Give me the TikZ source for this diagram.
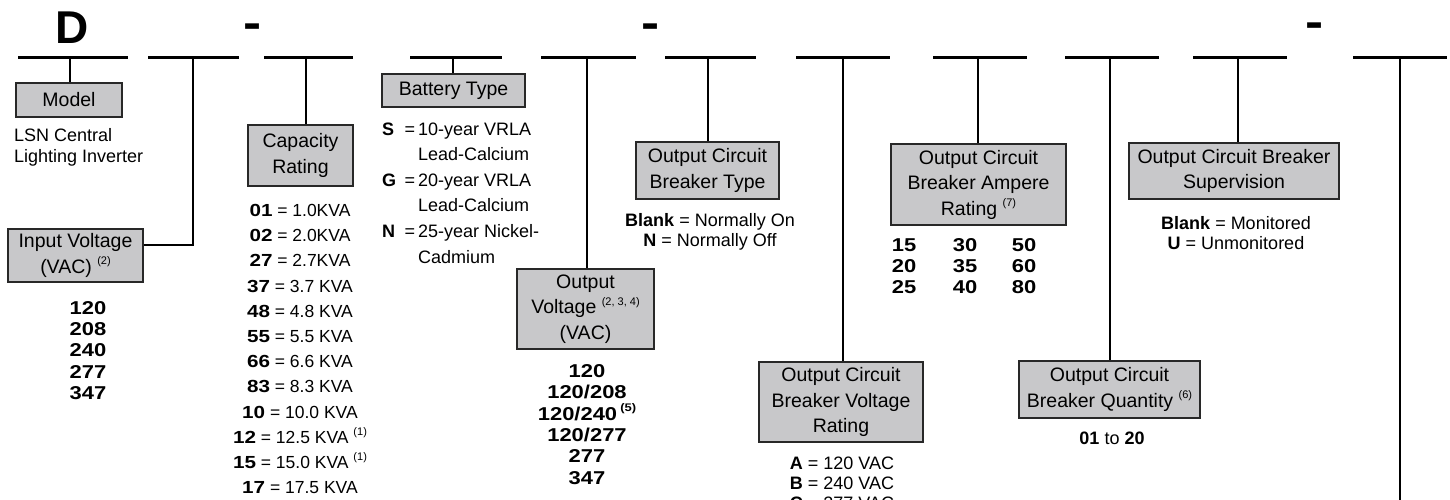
\documentclass[tikz,border=0pt]{standalone}
\usepackage{fontspec}
\setmainfont{Liberation Sans}
\newfontfamily\widefont[FakeStretch=1.18]{Liberation Sans}
\definecolor{boxgray}{RGB}{200,200,202}
\definecolor{boxline}{RGB}{40,40,40}
\newcommand{\supnote}[1]{\raisebox{0.45em}{\fontsize{11}{11}\selectfont(#1)}}
\newcommand{\keynum}[1]{{\widefont\bfseries #1}}
\newcommand{\battkey}[1]{\makebox[36pt][l]{\textbf{#1}\hfill=\hspace{3pt}}}

\begin{document}
\begin{tikzpicture}[
  x=1pt, y=-1pt,
  every node/.style={inner sep=0pt},
  slot/.style={draw, line width=3pt},
  link/.style={draw, line width=2.4pt},
  box/.style={draw=boxline, fill=boxgray, line width=1.2pt, align=center,
    font=\fontsize{19.5}{25.5}\selectfont},
  list/.style={align=center, font=\fontsize{18}{20}\selectfont},
  nums/.style={align=center, font=\widefont\bfseries\fontsize{18.6}{21.3}\selectfont},
  big/.style={anchor=base, font=\bfseries\fontsize{46}{46}\selectfont},
  hyph/.style={anchor=base, font=\widefont\bfseries\fontsize{46}{46}\selectfont}]

  \useasboundingbox (0,0) rectangle (1450,500);

  % code letters over the slots
  \node[big]  (d)     at (72,43.5)   {D};
  \node[hyph] (hyph1) at (252.5,38.5) {-};
  \node[hyph] (hyph2) at (651,38.5)   {-};
  \node[hyph] (hyph3) at (1315,37.5)  {-};

  % slots
  \foreach \i/\a/\b/\m in {1/18/128/70, 2/148/239/193, 3/264/353/306,
      4/410/502/453, 5/541/636/587, 6/665/756/708, 7/796/890/843,
      8/933/1027/978, 9/1065/1159/1110, 10/1193/1287/1238, 11/1353/1447/1400} {
    \coordinate (sl\i) at (\a,57.5);
    \coordinate (sr\i) at (\b,57.5);
    \coordinate (s\i)  at (\m,57.5);
    \draw[slot] (sl\i) -- (sr\i);
  }
  \coordinate (tail) at (1400,505);

  % boxes
  \node[box, minimum width=106, minimum height=34] (model)  at (69,100)     {Model};
  \node[box, minimum width=135, minimum height=53] (inv)    at (75.5,255.5) {Input Voltage\\(VAC) \supnote{2}};
  \node[box, minimum width=105, minimum height=61] (cap)    at (300.5,155.5) {Capacity\\Rating};
  \node[box, minimum width=143, minimum height=33] (bat)    at (453.5,90.5) {Battery Type};
  \node[box, minimum width=137, minimum height=80] (outv)   at (585.5,309)  {Output\\Voltage \supnote{2, 3, 4}\\(VAC)};
  \node[box, minimum width=143, minimum height=57] (cbtype) at (707.5,170.5) {Output Circuit\\Breaker Type};
  \node[box, minimum width=164, minimum height=80] (cbvolt) at (841,402)    {Output Circuit\\Breaker Voltage\\Rating};
  \node[box, minimum width=175, minimum height=81] (cbamp)  at (978.5,184.5) {Output Circuit\\Breaker Ampere\\Rating \supnote{7}};
  \node[box, minimum width=181, minimum height=57] (cbqty)  at (1109.5,389.5) {Output Circuit\\Breaker Quantity \supnote{6}};
  \node[box, minimum width=210, minimum height=56] (cbsup)  at (1234,171)   {Output Circuit Breaker\\Supervision};

  % connectors
  \draw[link] (s1)  -- (s1 |- model.north);
  \draw[link] (s2)  |- ([yshift=10.5pt]inv.east);
  \draw[link] (s3)  -- (s3 |- cap.north);
  \draw[link] (s4)  -- (s4 |- bat.north);
  \draw[link] (s5)  -- (s5 |- outv.north);
  \draw[link] (s6)  -- (s6 |- cbtype.north);
  \draw[link] (s7)  -- (s7 |- cbvolt.north);
  \draw[link] (s8)  -- (s8 |- cbamp.north);
  \draw[link] (s9)  -- (s9 |- cbqty.north);
  \draw[link] (s10) -- (s10 |- cbsup.north);
  \draw[link] (s11) -- (tail);

  % option lists
  \node[list, anchor=west, align=left, font=\fontsize{18}{21}\selectfont] (lsn) at (14,147.5)
    {LSN Central\\Lighting Inverter};
  \node[nums] (invvals) at (88,350.5) {120\\208\\240\\277\\347};
  \node[list, font=\fontsize{17.5}{25.2}\selectfont] (capvals) at (300,349)
    {\keynum{01} = 1.0KVA\\\keynum{02} = 2.0KVA\\\keynum{27} = 2.7KVA\\
     \keynum{37} = 3.7 KVA\\\keynum{48} = 4.8 KVA\\\keynum{55} = 5.5 KVA\\
     \keynum{66} = 6.6 KVA\\\keynum{83} = 8.3 KVA\\\keynum{10} = 10.0 KVA\\
     \keynum{12} = 12.5 KVA \supnote{1}\\\keynum{15} = 15.0 KVA \supnote{1}\\
     \keynum{17} = 17.5 KVA};
  \node[list, anchor=west, align=left, font=\fontsize{18}{25.6}\selectfont] (batvals) at (382,193)
    {\battkey{S}10-year VRLA\\
     \hspace*{36pt}Lead-Calcium\\
     \battkey{G}20-year VRLA\\
     \hspace*{36pt}Lead-Calcium\\
     \battkey{N}25-year Nickel-\\
     \hspace*{36pt}Cadmium};
  \node[nums] (outvals) at (587,424.5)
    {120\\120/208\\120/240\,\supnote{5}\\120/277\\277\\347};
  \node[list] (typevals) at (710,232)
    {\textbf{Blank} = Normally On\\\textbf{N} = Normally Off};
  \node[list] (voltvals) at (842,483)
    {\textbf{A} = 120 VAC\\\textbf{B} = 240 VAC\\\textbf{C} = 277 VAC};
  \node[nums] (amp1) at (904,266)  {15\\20\\25};
  \node[nums] (amp2) at (965,266)  {30\\35\\40};
  \node[nums] (amp3) at (1024,266) {50\\60\\80};
  \node[list] (qtyvals) at (1112,438) {\textbf{01} to \textbf{20}};
  \node[list] (supvals) at (1236,233)
    {\textbf{Blank} = Monitored\\\textbf{U} = Unmonitored};
\end{tikzpicture}
\end{document}
